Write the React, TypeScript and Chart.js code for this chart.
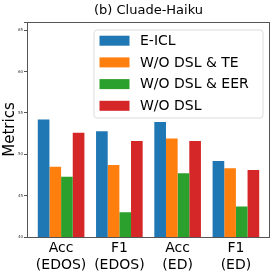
import React, { useEffect, useRef } from 'react';
import { Chart, registerables } from 'chart.js';

Chart.register(...registerables);

const categories: string[][] = [
  ['Acc', '(EDOS)'],
  ['F1', '(EDOS)'],
  ['Acc', '(ED)'],
  ['F1', '(ED)'],
];
const seriesNames = ['E-ICL', 'W/O DSL & TE', 'W/O DSL & EER', 'W/O DSL'];
const eicl = [54.2, 52.8, 53.9, 49.2];
const woDslTe = [48.5, 48.7, 51.9, 48.3];
const woDslEer = [47.3, 43.0, 47.7, 43.7];
const woDsl = [52.6, 51.6, 51.6, 48.1];
const yTicks = [40, 45, 50, 55, 60, 65];
const colors = ['#1f77b4', '#ff7f0e', '#2ca02c', '#d62728'];
const titleText = '(b) Cluade-Haiku';
const FONT = "'DejaVu Sans', sans-serif";

const frameAndLegend = {
  id: 'frameAndLegend',
  afterDraw(chart: any) {
    const { ctx, chartArea } = chart;
    const { left, right, top, bottom } = chartArea;
    ctx.save();
    // title centred over plot area
    ctx.font = `13px ${FONT}`;
    ctx.fillStyle = '#000';
    ctx.textAlign = 'center';
    ctx.textBaseline = 'middle';
    ctx.fillText(titleText, (left + right) / 2, top - 11);

    ctx.strokeStyle = '#555';
    ctx.lineWidth = 1;
    ctx.strokeRect(Math.round(left) + 0.5, Math.round(top) + 0.5, Math.round(right - left) - 1, Math.round(bottom - top));

    // legend box
    const bw = 169, bh = 88;
    const bx = right - 7 - bw;
    const by = top + 8;
    ctx.beginPath();
    const r = 3;
    ctx.moveTo(bx + r, by);
    ctx.lineTo(bx + bw - r, by);
    ctx.quadraticCurveTo(bx + bw, by, bx + bw, by + r);
    ctx.lineTo(bx + bw, by + bh - r);
    ctx.quadraticCurveTo(bx + bw, by + bh, bx + bw - r, by + bh);
    ctx.lineTo(bx + r, by + bh);
    ctx.quadraticCurveTo(bx, by + bh, bx, by + bh - r);
    ctx.lineTo(bx, by + r);
    ctx.quadraticCurveTo(bx, by, bx + r, by);
    ctx.closePath();
    ctx.fillStyle = 'rgba(255,255,255,0.8)';
    ctx.fill();
    ctx.strokeStyle = '#dcdcdc';
    ctx.stroke();

    ctx.font = `14px ${FONT}`;
    ctx.textBaseline = 'middle';
    ctx.textAlign = 'left';
    const ds = chart.data.datasets;
    for (let i = 0; i < ds.length; i++) {
      const cy = by + 10.7 + i * 21.7;
      ctx.fillStyle = ds[i].backgroundColor;
      ctx.fillRect(bx + 5.5, cy - 5, 30, 10);
      ctx.fillStyle = '#000';
      ctx.fillText(ds[i].label, bx + 46, cy + 0.5);
    }
    ctx.restore();
  },
};

export default function App() {
  const ref = useRef<HTMLCanvasElement | null>(null);
  useEffect(() => {
    if (!ref.current) return;
    const series = [eicl, woDslTe, woDslEer, woDsl];
    const chart = new Chart(ref.current, {
      type: 'bar',
      data: {
        datasets: series.map((vals, i) => ({
          label: seriesNames[i],
          data: vals.map((v, j) => ({ x: j, y: v })),
          backgroundColor: colors[i],
          borderWidth: 0,
          categoryPercentage: 0.8,
          barPercentage: 1.0,
        })),
      },
      plugins: [frameAndLegend],
      options: {
        animation: false,
        responsive: true,
        maintainAspectRatio: false,
        layout: { padding: { left: 0, right: 5, top: 22, bottom: 0 } },
        plugins: {
          legend: { display: false },
          tooltip: { enabled: false },
          title: { display: false },
        },
        scales: {
          x: {
            type: 'linear',
            min: -0.585,
            max: 3.585,
            offset: false,
            border: { display: false },
            grid: { display: false, drawTicks: false },
            ticks: {
              stepSize: 1,
              includeBounds: false,
              autoSkip: false,
              maxRotation: 0,
              padding: 3,
              color: '#000',
              font: { family: FONT, size: 14, lineHeight: 1.19 },
              callback: (v: any) => categories[v as number] ?? '',
            },
            afterFit: (s: any) => { s.height = 38; },
          },
          y: {
            min: 40,
            max: 66,
            border: { display: false },
            grid: { drawOnChartArea: false, drawTicks: true, tickLength: 3, color: '#555' },
            ticks: {
              stepSize: 5,
              padding: 1,
              color: '#333',
              font: { family: FONT, size: 4 },
              callback: (v: any) => (yTicks.includes(v) ? String(v) : ''),
            },
            title: {
              display: true,
              text: 'Metrics',
              color: '#000',
              font: { family: FONT, size: 15 },
              padding: { top: 1, bottom: 0 },
            },
            afterFit: (s: any) => { s.width = 27; },
          },
        },
      },
    } as any);
    return () => chart.destroy();
  }, []);
  return (
    <div style={{ position: 'fixed', left: 0, top: 0, width: 275, height: 275, background: '#fff' }}>
      <canvas ref={ref} />
    </div>
  );
}
